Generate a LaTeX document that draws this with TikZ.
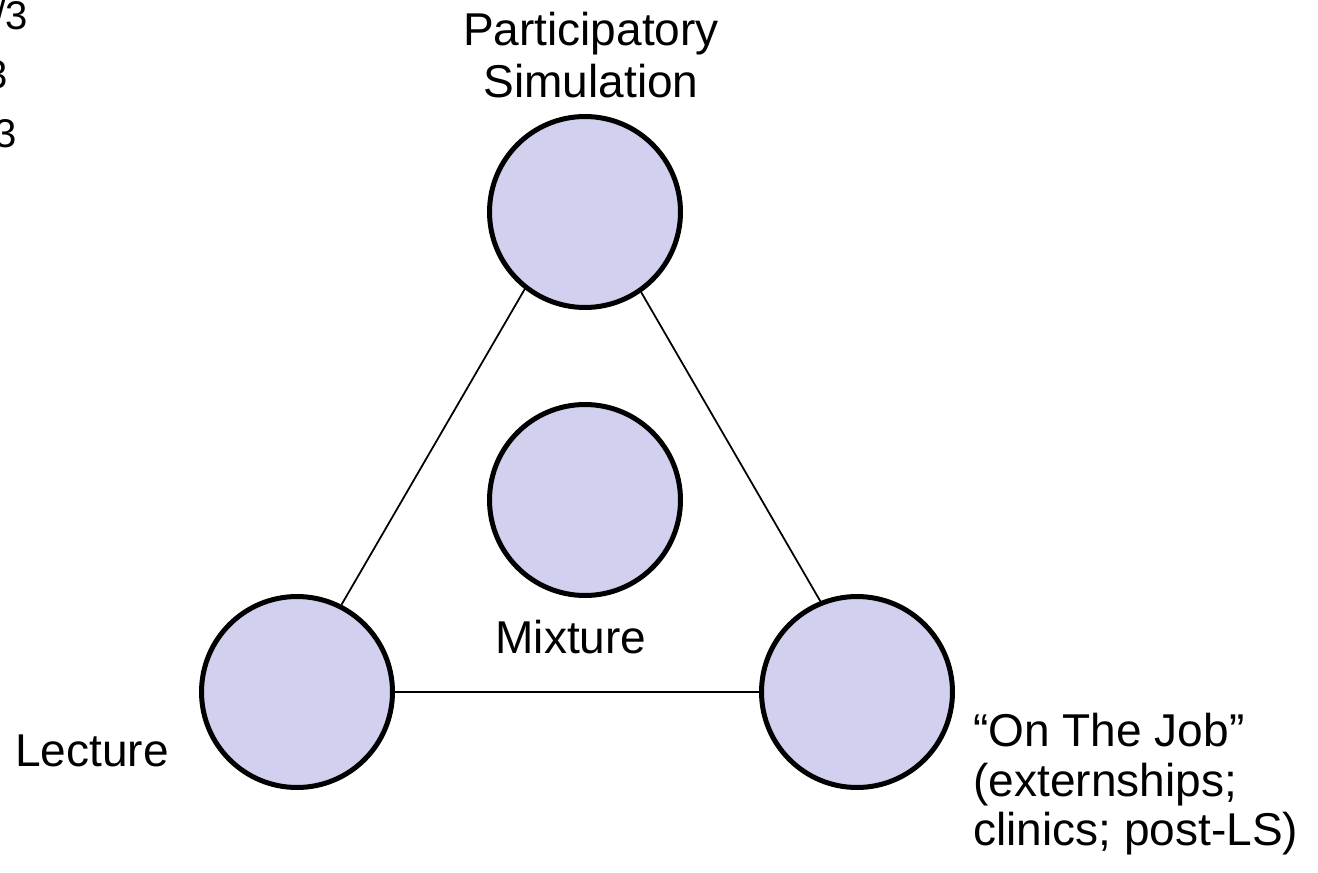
\documentclass[tikz,border=0pt]{standalone}
\usepackage{fontspec}
\setmainfont{Liberation Sans}
\usepackage{xcolor}
\usepackage{tikz}
\usetikzlibrary{positioning,calc}
\definecolor{lilas}{RGB}{209,209,239}
\definecolor{contorno}{HTML}{000000}
\tikzset{
  circulo/.style={circle, fill=lilas, draw=contorno, line width=0.1cm,
    minimum size=3.82cm, inner sep=0pt},
  ligacao/.style={draw=contorno, line width=1pt},
  rotulo/.style={inner sep=0pt, font=\fontsize{26.2}{29.6}\selectfont},
  fracao/.style={inner sep=0pt, anchor=base east, font=\fontsize{22.8}{26}\selectfont},
}

\begin{document}
\begin{tikzpicture}[x=0.02cm, y=-0.02cm]
    \useasboundingbox (0,0) rectangle (1318,872);
    \clip (0,0) rectangle (1318,872);
    \node[circulo] (sim) at (585,212) {};
    \node[circulo] (mix) at (585,500) {};
    \node[circulo] (lect) at (297,692) {};
    \node[circulo] (job) at (857,692) {};
    \draw[ligacao] (sim.232) -- (lect.63);
    \draw[ligacao] (sim.305) -- (job.112);
    \draw[ligacao] (lect) -- (job);
    \node[rotulo, anchor=north, align=center] (simtxt) at (591,12) {Participatory\\Simulation};
    \node[rotulo, anchor=base] (mixtxt) at (571,653) {Mixture};
    \node[rotulo, anchor=base] (lecttxt) at (92,766) {Lecture};
    \node[rotulo, anchor=north west, align=left] (jobtxt) at (973,713)
      {``On The Job''\\[-1.4pt](externships;\\[-1.4pt]clinics; post-LS)};
    \node[fracao] (f1) at (28,30) {1/3};
    \node[fracao] (f2) at (8,88) {1/3};
    \node[fracao] (f3) at (17,147) {1/3};
  \end{tikzpicture}
\end{document}
